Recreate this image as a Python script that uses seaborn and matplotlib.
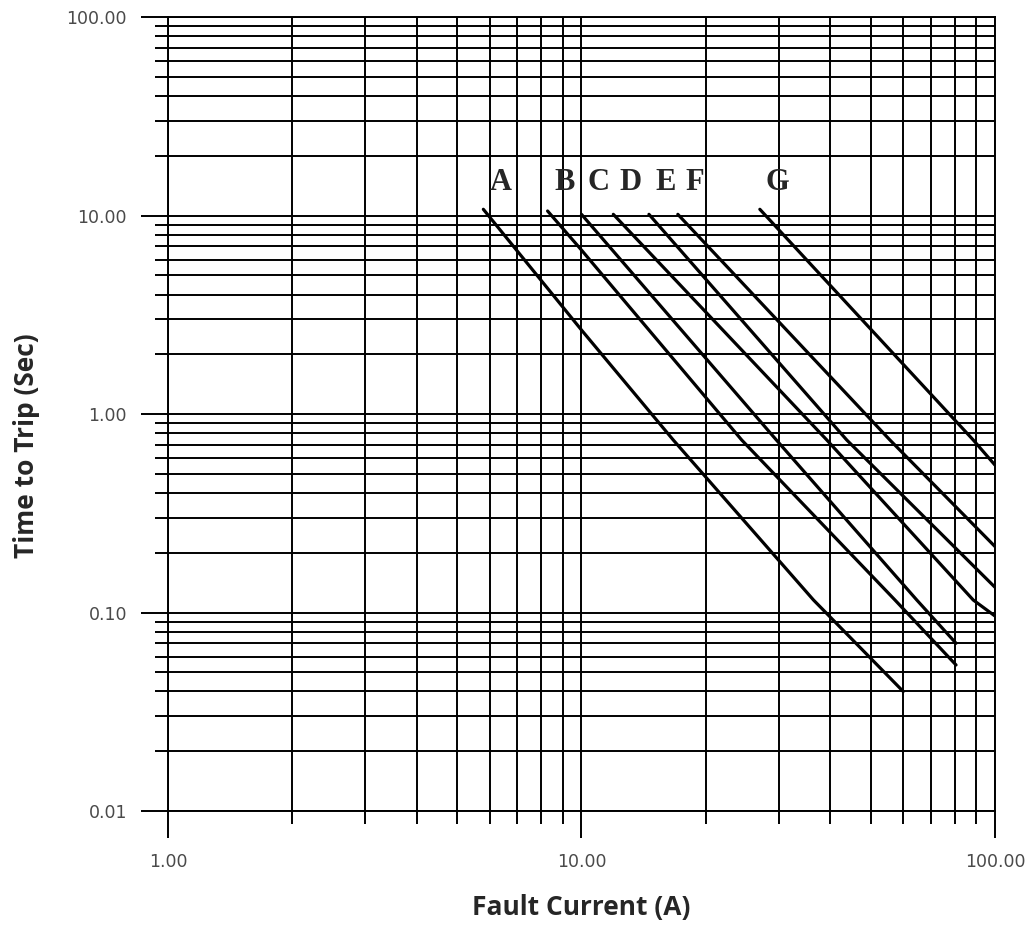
import numpy as np
import pandas as pd
import matplotlib
matplotlib.use('Agg')
import matplotlib.pyplot as plt
import seaborn as sns
from matplotlib.ticker import LogLocator, FuncFormatter, NullFormatter

# --- DATA ---
fuse_names = ['A', 'B', 'C', 'D', 'E', 'F', 'G']

current_a = [5.79, 10.0, 16.67, 36.4, 60.0]
time_a = [10.75, 2.65, 0.74, 0.1156, 0.040]

current_b = [8.28, 10.0, 24.4, 57.3, 80.5]
time_b = [10.54, 6.7, 0.74, 0.1156, 0.0544]

current_c = [10.0, 29.6, 64.7, 80.5]
time_c = [10.14, 0.74, 0.1156, 0.070]

current_d = [11.94, 39.2, 88.6, 100.0]
time_d = [10.14, 0.74, 0.1156, 0.096]

current_e = [14.56, 43.8, 100.0]
time_e = [10.14, 0.74, 0.134]

current_f = [17.1, 55.7, 100.0]
time_f = [10.14, 0.74, 0.215]

current_g = [27.0, 88.6, 100.0]
time_g = [10.75, 0.74, 0.553]

x_ticks = [1, 10, 100]
y_ticks = [0.01, 0.1, 1, 10, 100]

currents = [current_a, current_b, current_c, current_d, current_e, current_f, current_g]
times = [time_a, time_b, time_c, time_d, time_e, time_f, time_g]

rows = []
for name, cur, t in zip(fuse_names, currents, times):
    for c, v in zip(cur, t):
        rows.append({'fuse': name, 'current': c, 'time': v})
df = pd.DataFrame(rows)

# --- PLOT ---
sns.set_style('white')
plt.rcParams['font.family'] = ['DejaVu Sans']

fig = plt.figure(figsize=(10.33, 9.31), dpi=100)
ax = fig.add_axes([0.1626, 0.1289, 0.8006, 0.8528])

sns.lineplot(data=df, x='current', y='time', units='fuse', estimator=None,
             sort=False, color='black', linewidth=2.3, ax=ax, zorder=5)

ax.set_xscale('log')
ax.set_yscale('log')
ax.set_xlim(1, 100)
ax.set_ylim(0.01, 100)

ax.set_xticks(x_ticks)
ax.set_yticks(y_ticks)
ax.xaxis.set_minor_locator(LogLocator(base=10, subs=np.arange(2, 10)))
ax.yaxis.set_minor_locator(LogLocator(base=10, subs=np.arange(2, 10)))
fmt = FuncFormatter(lambda v, _: f'{v:.2f}')
ax.xaxis.set_major_formatter(fmt)
ax.yaxis.set_major_formatter(fmt)
ax.xaxis.set_minor_formatter(NullFormatter())
ax.yaxis.set_minor_formatter(NullFormatter())

ax.grid(True, which='both', color='black', linewidth=1.4)
ax.tick_params(which='both', bottom=True, left=True, top=False, right=False)
ax.tick_params(which='major', direction='out', length=19.5, width=1.4,
               color='black', labelsize=12.5, labelcolor='#4a4a4a')
ax.tick_params(axis='y', which='major', pad=10)
ax.tick_params(axis='x', which='major', pad=11)
ax.tick_params(which='minor', direction='out', length=9.5, width=1.4, color='black')
for sp in ax.spines.values():
    sp.set_color('black')
    sp.set_linewidth(1.4)
ax.set_xlabel('')
ax.set_ylabel('')

# fuse letters just above each curve start
for name, cur in zip(fuse_names, currents):
    ax.text(cur[0] * 1.1, 14.7, name, ha='center', va='center',
            fontsize=22, fontweight='bold', family='Liberation Serif', zorder=6)

fig.text(581 / 1033, 1 - 908 / 931, 'Fault Current (A)', ha='center', va='center',
         fontsize=19, fontweight='bold', family='Open Sans')
fig.text(27 / 1033, 1 - 446 / 931, 'Time to Trip (Sec)', ha='center', va='center',
         rotation=90, fontsize=19, fontweight='bold', family='Open Sans')

fig.savefig('out.png', dpi=100, facecolor='white')
plt.close(fig)
